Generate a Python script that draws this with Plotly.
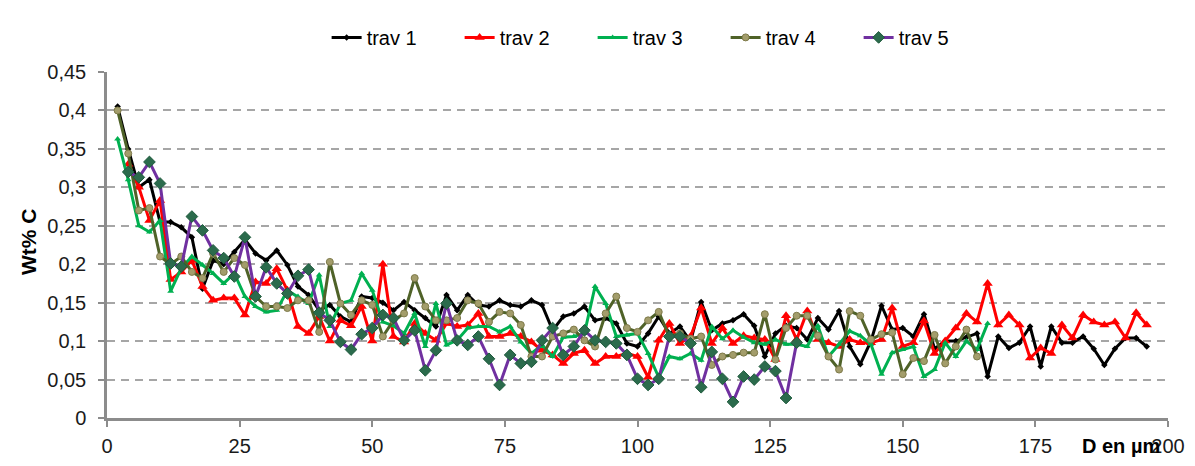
import plotly.graph_objects as go

# Carbon profiles (Wt% C) versus depth D (µm), five traverses
x_trav1 = list(range(2, 198, 2))
trav1 = [0.405, 0.35, 0.30, 0.31, 0.255, 0.255, 0.248, 0.235, 0.168, 0.205,
         0.20, 0.216, 0.232, 0.214, 0.205, 0.218, 0.199, 0.171, 0.16, 0.14,
         0.147, 0.132, 0.125, 0.158, 0.156, 0.15, 0.14, 0.151, 0.14, 0.13,
         0.119, 0.16, 0.14, 0.16, 0.147, 0.145, 0.153, 0.147, 0.145, 0.153,
         0.147, 0.114, 0.132, 0.136, 0.145, 0.127, 0.13, 0.123, 0.097, 0.093,
         0.11, 0.132, 0.11, 0.119, 0.10, 0.151, 0.114, 0.123, 0.127, 0.135,
         0.12, 0.08, 0.11, 0.12, 0.117, 0.102, 0.13, 0.115, 0.139, 0.093,
         0.07, 0.10, 0.146, 0.115, 0.117, 0.106, 0.135, 0.09, 0.1, 0.1,
         0.105, 0.11, 0.054, 0.106, 0.091, 0.098, 0.119, 0.067, 0.119, 0.098,
         0.098, 0.106, 0.09, 0.069, 0.09, 0.104, 0.104, 0.093]

x_trav2 = list(range(4, 198, 2))
trav2 = [0.33, 0.30, 0.257, 0.283, 0.18, 0.19, 0.205, 0.171, 0.153, 0.156,
         0.156, 0.134, 0.177, 0.175, 0.194, 0.166, 0.119, 0.11, 0.132, 0.10,
         0.127, 0.12, 0.145, 0.10, 0.2, 0.106, 0.099, 0.123, 0.11, 0.101,
         0.123, 0.119, 0.121, 0.136, 0.106, 0.106, 0.11, 0.106, 0.099, 0.088,
         0.082, 0.071, 0.084, 0.088, 0.071, 0.08, 0.08, 0.084, 0.08, 0.053,
         0.101, 0.123, 0.097, 0.106, 0.143, 0.097, 0.117, 0.097, 0.107, 0.104,
         0.102, 0.076, 0.133, 0.102, 0.139, 0.102, 0.098, 0.093, 0.102, 0.098,
         0.098, 0.102, 0.143, 0.093, 0.098, 0.126, 0.084, 0.1, 0.117, 0.136,
         0.125, 0.175, 0.121, 0.134, 0.121, 0.078, 0.091, 0.084, 0.121, 0.104,
         0.134, 0.125, 0.121, 0.125, 0.104, 0.137, 0.121]

x_trav3 = list(range(2, 168, 2))
trav3 = [0.363, 0.31, 0.25, 0.242, 0.257, 0.165, 0.195, 0.21, 0.199, 0.188,
         0.175, 0.188, 0.158, 0.145, 0.138, 0.14, 0.166, 0.158, 0.149, 0.186,
         0.119, 0.149, 0.153, 0.188, 0.166, 0.125, 0.12, 0.11, 0.136, 0.093,
         0.149, 0.095, 0.101, 0.117, 0.119, 0.119, 0.112, 0.119, 0.099, 0.084,
         0.095, 0.08, 0.105, 0.106, 0.11, 0.171, 0.149, 0.106, 0.108, 0.11,
         0.084, 0.053, 0.08, 0.077, 0.084, 0.075, 0.119, 0.103, 0.114, 0.105,
         0.098, 0.096, 0.102, 0.096, 0.096, 0.093, 0.12, 0.08, 0.096, 0.113,
         0.107, 0.096, 0.057, 0.085, 0.089, 0.093, 0.054, 0.063, 0.098, 0.08,
         0.1, 0.089, 0.123]

x_trav4 = list(range(2, 166, 2))
trav4 = [0.40, 0.344, 0.27, 0.273, 0.21, 0.20, 0.21, 0.19, 0.182, 0.214,
         0.19, 0.208, 0.199, 0.158, 0.145, 0.145, 0.143, 0.153, 0.153, 0.112,
         0.203, 0.149, 0.134, 0.153, 0.147, 0.106, 0.127, 0.136, 0.182, 0.145,
         0.127, 0.127, 0.13, 0.153, 0.149, 0.125, 0.138, 0.136, 0.121, 0.08,
         0.08, 0.106, 0.11, 0.115, 0.101, 0.093, 0.136, 0.158, 0.117, 0.112,
         0.127, 0.138, 0.106, 0.11, 0.103, 0.106, 0.069, 0.08, 0.082, 0.085,
         0.085, 0.135, 0.076, 0.117, 0.133, 0.133, 0.107, 0.08, 0.063, 0.139,
         0.133, 0.102, 0.109, 0.111, 0.057, 0.078, 0.074, 0.108, 0.071, 0.093,
         0.115, 0.08]

x_trav5 = list(range(4, 132, 2))
trav5 = [0.32, 0.313, 0.333, 0.305, 0.201, 0.197, 0.262, 0.244, 0.218, 0.208,
         0.184, 0.235, 0.158, 0.196, 0.175, 0.162, 0.185, 0.193, 0.137, 0.127,
         0.099, 0.089, 0.109, 0.117, 0.134, 0.13, 0.101, 0.114, 0.062, 0.088,
         0.149, 0.101, 0.095, 0.106, 0.077, 0.043, 0.082, 0.071, 0.073, 0.101,
         0.117, 0.082, 0.093, 0.114, 0.101, 0.099, 0.097, 0.082, 0.051, 0.043,
         0.051, 0.106, 0.106, 0.097, 0.04, 0.086, 0.051, 0.021, 0.054, 0.05,
         0.067, 0.061, 0.026, 0.098]

y_tickvals = [0, 0.05, 0.1, 0.15, 0.2, 0.25, 0.3, 0.35, 0.4, 0.45]
y_ticktext = ["0", "0,05", "0,1", "0,15", "0,2", "0,25", "0,3", "0,35", "0,4", "0,45"]
x_tickvals = [0, 25, 50, 75, 100, 125, 150, 175, 200]
x_ticktext = ["0", "25", "50", "75", "100", "125", "150", "175", "200"]

fig = go.Figure()

fig.add_trace(go.Scatter(
    x=x_trav1, y=trav1, name="trav 1", mode="lines+markers",
    line=dict(color="#000000", width=3),
    marker=dict(symbol="diamond", size=5, color="#000000")))
fig.add_trace(go.Scatter(
    x=x_trav2, y=trav2, name="trav 2", mode="lines+markers",
    line=dict(color="#FF0000", width=3),
    marker=dict(symbol="triangle-up", size=9, color="#FF0000")))
fig.add_trace(go.Scatter(
    x=x_trav3, y=trav3, name="trav 3", mode="lines+markers",
    line=dict(color="#00B050", width=3),
    marker=dict(symbol="triangle-up", size=6, color="#00B050")))
fig.add_trace(go.Scatter(
    x=x_trav4, y=trav4, name="trav 4", mode="lines+markers",
    line=dict(color="#4F6228", width=3),
    marker=dict(symbol="circle", size=7, color="#A39D6B",
                line=dict(color="#7E7A4A", width=1))))
fig.add_trace(go.Scatter(
    x=x_trav5, y=trav5, name="trav 5", mode="lines+markers",
    line=dict(color="#7030A0", width=3),
    marker=dict(symbol="diamond", size=9, color="#2B6B4C",
                line=dict(color="#1E5A3C", width=1))))

fig.update_layout(
    width=1195, height=466,
    margin=dict(l=107, r=27, t=72, b=48, autoexpand=False),
    paper_bgcolor="white", plot_bgcolor="white",
    font=dict(family="Liberation Sans, Arial, sans-serif", size=20, color="#1a1a1a"),
    showlegend=True,
    legend=dict(orientation="h", x=0.207, y=1.1, xanchor="left", yanchor="middle",
                font=dict(size=20, color="#000000"),
                entrywidth=88, entrywidthmode="pixels",
                bgcolor="rgba(0,0,0,0)"),
    xaxis=dict(range=[0, 200], tickvals=x_tickvals, ticktext=x_ticktext,
               showgrid=False, zeroline=False,
               showline=True, linecolor="#8C8C8C", linewidth=2.5,
               ticks="outside", ticklen=6, tickwidth=2, tickcolor="#8C8C8C",
               ticklabelstandoff=2,
               tickfont=dict(size=20, color="#1a1a1a")),
    yaxis=dict(range=[0, 0.45], tickvals=y_tickvals, ticktext=y_ticktext,
               showgrid=True, gridcolor="#A6A6A6", gridwidth=2, griddash="8px,6px",
               zeroline=False,
               showline=True, linecolor="#8C8C8C", linewidth=2.5,
               ticks="outside", ticklen=6, tickwidth=2, tickcolor="#8C8C8C",
               ticklabelstandoff=8,
               tickfont=dict(size=20, color="#1a1a1a")),
    annotations=[
        dict(text="<b>Wt% C</b>", xref="paper", yref="paper",
             x=-0.074, y=0.51, xanchor="center", yanchor="middle", textangle=-90,
             showarrow=False, font=dict(size=21, color="#000000")),
        dict(text="<b>D en µm</b>", xref="paper", yref="paper",
             x=0.994, y=-0.08, xanchor="right", yanchor="middle",
             showarrow=False, font=dict(size=20, color="#000000")),
    ],
)

fig.write_html("out.html")
